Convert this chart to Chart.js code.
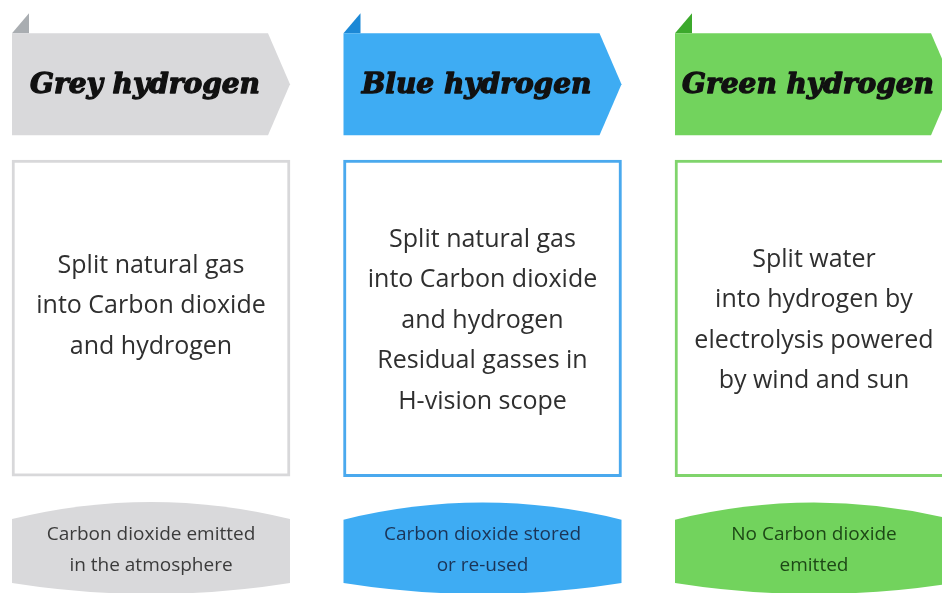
<!DOCTYPE html>
<html>
<head>
<meta charset="utf-8">
<script src="https://cdn.jsdelivr.net/npm/chart.js@4/dist/chart.umd.min.js"></script>
<style>
  html, body { margin: 0; padding: 0; background: #fff; }
  #wrap { width: 942px; height: 593px; }
</style>
</head>
<body>
<div id="wrap"><canvas id="chart"></canvas></div>
<script>
// columns of the infographic
var categories = ["Grey hydrogen", "Blue hydrogen", "Green hydrogen"];

// vertical bands, in % of the page height (0 = top)
var headerBand = [[5.6, 22.8], [5.6, 22.8], [5.6, 22.8]];
var processBand = [[27.0, 80.3], [27.0, 80.4], [27.0, 80.4]];
var outcomeBand = [[84.5, 100], [84.6, 100], [84.6, 100]];

var processText = [
    ["Split natural gas", "into Carbon dioxide", "and hydrogen"],
    ["Split natural gas", "into Carbon dioxide", "and hydrogen", "Residual gasses in", "H-vision scope"],
    ["Split water", "into hydrogen by", "electrolysis powered", "by wind and sun"]
];
var outcomeText = [
    ["Carbon dioxide emitted", "in the atmosphere"],
    ["Carbon dioxide stored", "or re-used"],
    ["No Carbon dioxide", "emitted"]
];

var fillColors = ["#d9d9db", "#3eacf3", "#72d35d"];
var foldColors = ["#a9adb1", "#1b88d6", "#3ca92c"];
var borderColors = ["#d8d8da", "#4aa9ee", "#80d46c"];
var outcomeTextColors = ["#3b3b3b", "#1b3457", "#1d4816"];

var infographic = {
    id: "infographic",
    afterDatasetsDraw: function(chart){
        var ctx = chart.ctx;
        var heads = chart.getDatasetMeta(0).data;
        var boxes = chart.getDatasetMeta(1).data;
        var pills = chart.getDatasetMeta(2).data;

        ctx.save();
        heads.forEach(function(el, i){
            var left = el.x - el.width / 2, right = el.x + el.width / 2;
            var top = Math.min(el.y, el.base), bottom = Math.max(el.y, el.base);
            var tip = 22, mid = (top + bottom) / 2;
            // folded corner
            ctx.fillStyle = foldColors[i];
            ctx.beginPath();
            ctx.moveTo(left, top);
            ctx.lineTo(left + 17, top - 20);
            ctx.lineTo(left + 17, top);
            ctx.closePath();
            ctx.fill();
            // arrow ribbon
            ctx.fillStyle = fillColors[i];
            ctx.beginPath();
            ctx.moveTo(left, top);
            ctx.lineTo(right - tip, top);
            ctx.lineTo(right, mid);
            ctx.lineTo(right - tip, bottom);
            ctx.lineTo(left, bottom);
            ctx.closePath();
            ctx.fill();

            ctx.fillStyle = "#111";
            ctx.strokeStyle = "#111";
            ctx.lineWidth = 1.3;
            ctx.lineJoin = "round";
            ctx.font = "italic bold 28px 'DejaVu Serif'";
            ctx.textAlign = "center";
            ctx.textBaseline = "middle";
            var tx = left + (el.width - tip) / 2 + 5;
            ctx.fillText(categories[i], tx, mid + 2);
            ctx.strokeText(categories[i], tx, mid + 2);
        });

        boxes.forEach(function(el, i){
            var top = Math.min(el.y, el.base), bottom = Math.max(el.y, el.base);
            var lines = processText[i];
            var lh = 40.5;
            var cy = (top + bottom) / 2 + (i === 0 ? -12 : 2);
            ctx.fillStyle = "#2f2f2f";
            ctx.font = "25px 'Open Sans'";
            ctx.textAlign = "center";
            ctx.textBaseline = "middle";
            lines.forEach(function(t, j){
                ctx.fillText(t, el.x, cy + (j - (lines.length - 1) / 2) * lh);
            });
        });

        pills.forEach(function(el, i){
            var left = el.x - el.width / 2, right = el.x + el.width / 2;
            var top = Math.min(el.y, el.base), bottom = Math.max(el.y, el.base);
            var bulge = 18;
            ctx.fillStyle = fillColors[i];
            ctx.beginPath();
            ctx.moveTo(left, top + bulge);
            ctx.quadraticCurveTo(el.x, top - bulge * 0.9, right, top + bulge);
            ctx.lineTo(right, bottom - 10);
            ctx.quadraticCurveTo(el.x, bottom + 12, left, bottom - 10);
            ctx.closePath();
            ctx.fill();

            var lines = outcomeText[i];
            ctx.fillStyle = outcomeTextColors[i];
            ctx.font = "19px 'Open Sans'";
            ctx.textAlign = "center";
            ctx.textBaseline = "middle";
            lines.forEach(function(t, j){
                ctx.fillText(t, el.x, 535 + j * 31);
            });
        });
        ctx.restore();
    }
};

new Chart(document.getElementById("chart"), {
    type: "bar",
    data: {
        labels: categories,
        datasets: [
            { label: "header", data: headerBand, backgroundColor: "rgba(0,0,0,0)", borderWidth: 0 },
            { label: "process", data: processBand, backgroundColor: "#ffffff",
              borderColor: borderColors, borderWidth: 3, borderSkipped: false },
            { label: "outcome", data: outcomeBand, backgroundColor: "rgba(0,0,0,0)", borderWidth: 0 }
        ]
    },
    options: {
        responsive: true,
        maintainAspectRatio: false,
        animation: false,
        events: [],
        layout: { padding: { left: 151, right: 128, top: 0, bottom: 0 } },
        datasets: { bar: { grouped: false, barThickness: 278, clip: false } },
        plugins: { legend: { display: false }, tooltip: { enabled: false } },
        scales: {
            x: { type: "category", offset: false, display: false },
            y: { type: "linear", min: 0, max: 100, reverse: true, display: false }
        }
    },
    plugins: [infographic]
});
</script>
</body>
</html>
